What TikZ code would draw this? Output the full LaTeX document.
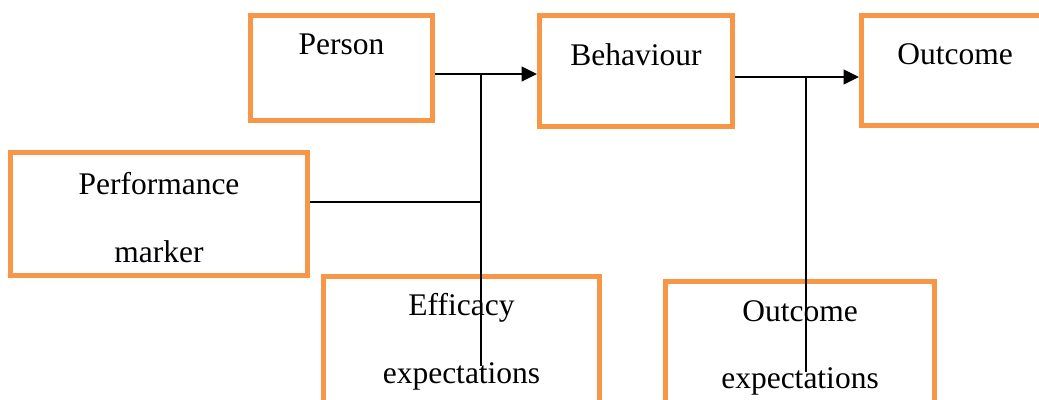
\documentclass[tikz,border=0pt]{standalone}
\usepackage{fontspec}
\setmainfont{Liberation Serif}
\usepackage{xcolor}
\usepackage{tikz}
\usetikzlibrary{shapes,arrows,positioning,calc,arrows.meta}
\definecolor{boxorange}{RGB}{247,150,70}

\begin{document}
\begin{tikzpicture}[x=0.025cm, y=-0.025cm,
    box/.style={draw=boxorange, line width=3.5pt, rectangle, inner sep=0pt},
    txt/.style={anchor=base, inner sep=0pt, font=\fontsize{22.4}{27}\selectfont},
    link/.style={line width=1.1pt},
    flow/.style={line width=1.5pt, -{Triangle[length=11pt,width=10.5pt]}}]
    \useasboundingbox (0,0) rectangle (1039,400);
    \clip (0,0) rectangle (1039,400);

    % Top row
    \node[box, minimum width=4.55cm, minimum height=2.625cm] (person) at (341.5,68) {};
    \node[txt] (persontxt) at (341.5,55) {Person};
    \node[box, minimum width=4.825cm, minimum height=2.775cm] (behaviour) at (636,71) {};
    \node[txt] (behaviourtxt) at (636,66) {Behaviour};
    \node[box, minimum width=4.675cm, minimum height=2.75cm] (outcome) at (955,70.5) {};
    \node[txt] (outcometxt) at (955,65) {Outcome};

    % Performance marker
    \node[box, minimum width=7.425cm, minimum height=3.075cm] (perf) at (159,214) {};
    \node[txt] (perftxt1) at (159,194) {Performance};
    \node[txt] (perftxt2) at (159,262) {marker};

    % Expectations
    \node[box, minimum width=6.9cm, minimum height=3.5875cm] (efficacy) at (461.5,348.25) {};
    \node[txt] (efficacytxt1) at (461.5,315) {Efficacy};
    \node[txt] (efficacytxt2) at (461.5,383) {expectations};
    \node[box, minimum width=6.725cm, minimum height=3.5875cm] (outexp) at (800,353.25) {};
    \node[txt] (outexptxt1) at (800,321) {Outcome};
    \node[txt] (outexptxt2) at (800,388) {expectations};

    % Connectors
    \coordinate (j1) at (481,74);
    \coordinate (j2) at (481,202);
    \coordinate (e1) at (481,366);
    \coordinate (j3) at (806,77);
    \coordinate (e2) at (806,372);
    \draw[flow] (person.east |- j1) -- (behaviour.west |- j1);
    \draw[link] (j1) -- (e1);
    \draw[link] (perf.east |- j2) -- (j2);
    \draw[flow] (behaviour.east |- j3) -- (outcome.west |- j3);
    \draw[link] (j3) -- (e2);
\end{tikzpicture}
\end{document}
